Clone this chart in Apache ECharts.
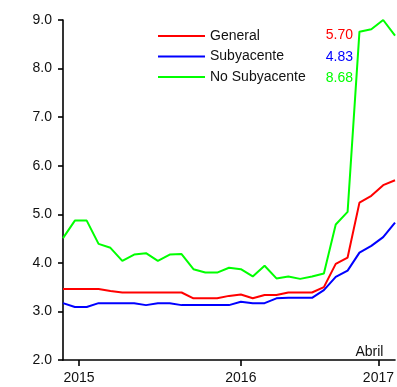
<!DOCTYPE html>
<html>
<head>
<meta charset="utf-8">
<script src="https://cdn.jsdelivr.net/npm/echarts@6/dist/echarts.min.js"></script>
<style>
  html, body { margin: 0; padding: 0; background: #fff; }
  #chart { width: 397px; height: 387px; }
</style>
</head>
<body>
<div id="chart"></div>
<script>
// Monthly readings, one entry per observation (index 0 .. 28)
const general = [3.46, 3.46, 3.46, 3.46, 3.42, 3.39, 3.39, 3.39, 3.39, 3.39,
                 3.39, 3.27, 3.27, 3.27, 3.32, 3.35, 3.27, 3.34, 3.34, 3.39,
                 3.39, 3.39, 3.50, 3.98, 4.11, 5.24, 5.38, 5.60, 5.70];
const subyacente = [3.17, 3.09, 3.09, 3.17, 3.17, 3.17, 3.17, 3.13, 3.17, 3.17,
                    3.13, 3.13, 3.13, 3.13, 3.13, 3.20, 3.17, 3.17, 3.27, 3.28,
                    3.28, 3.28, 3.44, 3.71, 3.84, 4.21, 4.35, 4.53, 4.83];
const noSubyacente = [4.51, 4.87, 4.87, 4.39, 4.31, 4.04, 4.17, 4.20, 4.04, 4.17,
                      4.18, 3.87, 3.80, 3.80, 3.90, 3.87, 3.72, 3.94, 3.68, 3.72,
                      3.67, 3.72, 3.78, 4.79, 5.05, 8.76, 8.81, 9.00, 8.68];

const seriesNames = ['General', 'Subyacente', 'No Subyacente'];
const seriesColors = ['#ff0000', '#0000ff', '#00ff00'];

// Year ticks on the time scale (in observation-index units)
const yearTickAt = [1.35, 15, 26.6];
const yearLabels = ['2015', '2016', '2017'];
const monthNote = 'Abril';
const monthNoteAt = 26.6;

const FONT = '"Liberation Sans", Arial, sans-serif';

const toPairs = arr => arr.map((v, i) => [i, v]);
const allSeries = [general, subyacente, noSubyacente];

const chart = echarts.init(document.getElementById('chart'), null, { renderer: 'canvas' });

const option = {
  animation: false,
  backgroundColor: '#ffffff',
  grid: { left: 63, right: 0, top: 20, bottom: 27, containLabel: false },
  legend: {
    orient: 'vertical',
    left: 152,
    top: 24,
    itemWidth: 47,
    itemHeight: 14,
    itemGap: 6.5,
    itemStyle: { opacity: 0 },
    textStyle: { fontFamily: FONT, fontSize: 14, color: '#111' },
    data: seriesNames
  },
  xAxis: {
    type: 'value',
    min: 0,
    max: general.length - 1,
    splitLine: { show: false },
    axisLine: { show: true, onZero: false, lineStyle: { color: '#000', width: 1.6 } },
    axisTick: {
      show: true,
      length: 6,
      customValues: yearTickAt,
      lineStyle: { color: '#000', width: 1.6 }
    },
    axisLabel: {
      show: true,
      customValues: yearTickAt,
      margin: 11,
      fontFamily: FONT,
      fontSize: 14,
      color: '#111',
      formatter: v => {
        const k = yearTickAt.findIndex(t => Math.abs(t - v) < 1e-6);
        return k >= 0 ? yearLabels[k] : '';
      }
    }
  },
  yAxis: {
    type: 'value',
    min: 2,
    max: 9,
    interval: 1,
    splitLine: { show: false },
    axisLine: { show: true, lineStyle: { color: '#000', width: 1.6 } },
    axisTick: { show: true, length: 5, lineStyle: { color: '#000', width: 1.6 } },
    axisLabel: {
      margin: 11,
      fontFamily: FONT,
      fontSize: 14,
      color: '#111',
      formatter: v => v.toFixed(1)
    }
  },
  series: allSeries.map((arr, i) => ({
    name: seriesNames[i],
    type: 'line',
    data: toPairs(arr),
    symbol: 'none',
    color: seriesColors[i],
    lineStyle: { color: seriesColors[i], width: 2 },
    clip: true
  }))
};

chart.setOption(option);

// Latest values printed beside the legend, plus the month note above the axis
const notePx = chart.convertToPixel({ gridIndex: 0 }, [monthNoteAt, 2]);
const valueRows = [36, 58, 79];
const graphics = allSeries.map((arr, i) => ({
  type: 'text',
  right: 397 - 353,
  top: valueRows[i] - 8,
  style: {
    text: arr[arr.length - 1].toFixed(2),
    fill: seriesColors[i],
    font: '14px ' + FONT,
    textAlign: 'right'
  }
}));
graphics.push({
  type: 'text',
  x: notePx[0] - 9,
  y: notePx[1] - 1,
  style: {
    text: monthNote,
    fill: '#111',
    font: '14px ' + FONT,
    textAlign: 'center',
    textVerticalAlign: 'bottom'
  }
});
chart.setOption({ graphic: graphics });
</script>
</body>
</html>
